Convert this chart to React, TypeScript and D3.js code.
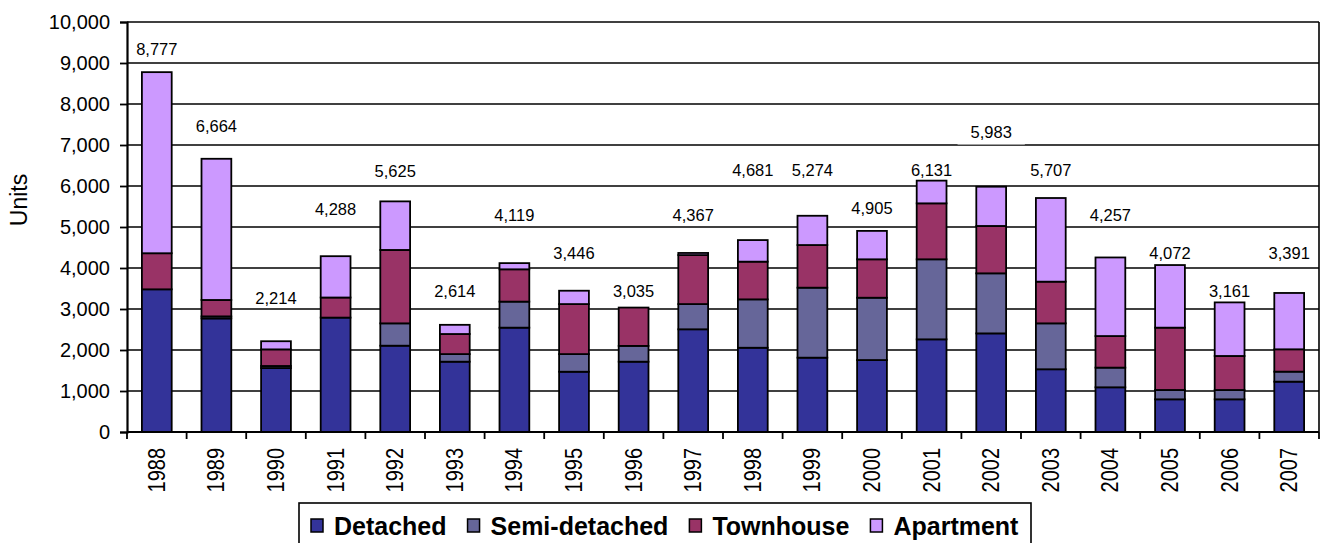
import { useEffect, useRef } from "react";
import * as d3 from "d3";

const years = ["1988", "1989", "1990", "1991", "1992", "1993", "1994", "1995", "1996", "1997",
  "1998", "1999", "2000", "2001", "2002", "2003", "2004", "2005", "2006", "2007"];

const detached = [3480, 2770, 1560, 2790, 2105, 1715, 2545, 1470, 1715, 2505, 2055, 1813, 1755, 2260, 2405, 1530, 1090, 797, 797, 1228];
const semiDetached = [0, 50, 50, 0, 545, 185, 635, 430, 385, 615, 1180, 1707, 1520, 1952, 1465, 1120, 480, 228, 227, 244];
const townhouse = [880, 400, 405, 490, 1790, 490, 788, 1220, 935, 1195, 920, 1040, 937, 1365, 1155, 1017, 770, 1520, 830, 545];
const apartment = [4417, 3444, 199, 1008, 1185, 224, 151, 326, 0, 52, 526, 714, 693, 554, 958, 2040, 1917, 1527, 1307, 1374];

// where the total labels sit (in units), they were dragged around in the original
const labelLevel = [9340, 7460, 3270, 5440, 6370, 3440, 5290, 4370, 3440, 5290, 6390, 6390, 5460, 6390, 7305, 6390, 5290, 4370, 3440, 4370];
const boxedLabels = ["2002"];

const seriesNames = ["Detached", "Semi-detached", "Townhouse", "Apartment"];
const colors = ["#333399", "#666699", "#993366", "#CC99FF"];

const yTicks = d3.range(0, 10001, 1000);

export default function App() {
  const ref = useRef<SVGSVGElement>(null);

  useEffect(() => {
    const width = 1321, height = 543;
    const left = 127, right = 1319, top = 22, bottom = 432;
    const font = "'Liberation Sans', Arial, sans-serif";

    const svg = d3.select(ref.current).attr("width", width).attr("height", height);
    svg.selectAll("*").remove();

    const x = d3.scaleBand().domain(years).range([left, right]).paddingInner(0.5).paddingOuter(0.25);
    const y = d3.scaleLinear().domain([0, 10000]).range([bottom, top]);
    const step = x.step();

    const rows = years.map((yr, i) => ({
      year: yr,
      Detached: detached[i],
      "Semi-detached": semiDetached[i],
      Townhouse: townhouse[i],
      Apartment: apartment[i],
    }));
    const stack = d3.stack<any>().keys(seriesNames)(rows);

    // gridlines
    svg.append("g").selectAll("line").data(yTicks).enter().append("line")
      .attr("x1", left).attr("x2", right)
      .attr("y1", d => y(d)).attr("y2", d => y(d))
      .attr("stroke", "#000").attr("stroke-width", 1.6);

    // right border
    svg.append("line").attr("x1", right).attr("x2", right).attr("y1", top).attr("y2", bottom)
      .attr("stroke", "#000").attr("stroke-width", 1.6);

    // bars
    svg.append("g").selectAll("g").data(stack).enter().append("g")
      .attr("fill", (d, i) => colors[i])
      .selectAll("rect").data(d => d.map((p, i) => ({ p, yr: years[i] }))).enter().append("rect")
      .attr("x", d => x(d.yr)!)
      .attr("width", x.bandwidth())
      .attr("y", d => y(d.p[1]))
      .attr("height", d => y(d.p[0]) - y(d.p[1]))
      .attr("stroke", "#000").attr("stroke-width", 1.8);

    // y axis
    const yAxis = svg.append("g").attr("transform", `translate(${left},0)`)
      .call(d3.axisLeft(y).tickValues(yTicks).tickFormat(d3.format(",")).tickSize(7).tickPadding(10));
    yAxis.select(".domain").attr("stroke-width", 2.2);
    yAxis.selectAll(".tick line").attr("stroke-width", 1.8);
    yAxis.selectAll("text").attr("font-size", 20).attr("font-family", font).attr("fill", "#000");

    // x axis line and ticks between categories
    svg.append("line").attr("x1", left).attr("x2", right).attr("y1", bottom).attr("y2", bottom)
      .attr("stroke", "#000").attr("stroke-width", 2.2);
    svg.append("g").selectAll("line").data(d3.range(years.length + 1)).enter().append("line")
      .attr("x1", i => left + i * step).attr("x2", i => left + i * step)
      .attr("y1", bottom).attr("y2", bottom + 7)
      .attr("stroke", "#000").attr("stroke-width", 1.8);

    svg.append("g").selectAll("text").data(years).enter().append("text")
      .attr("transform", d => `translate(${x(d)! + x.bandwidth() / 2},448) rotate(-90) scale(1,1.15)`)
      .attr("text-anchor", "end").attr("dy", "0.35em")
      .attr("font-size", 20).attr("font-family", font)
      .text(d => d);

    // axis title
    svg.append("text")
      .attr("transform", "translate(19,200) rotate(-90)")
      .attr("text-anchor", "middle").attr("dy", "0.35em")
      .attr("font-size", 23).attr("font-family", font)
      .text("Units");

    // total labels
    const fmt = d3.format(",");
    const lbl = svg.append("g");
    years.forEach((yr, i) => {
      const total = detached[i] + semiDetached[i] + townhouse[i] + apartment[i];
      const cx = x(yr)! + x.bandwidth() / 2;
      const cy = y(labelLevel[i]);
      const t = lbl.append("text")
        .attr("x", cx).attr("y", cy).attr("dy", "0.35em")
        .attr("text-anchor", "middle")
        .attr("font-size", 16.5).attr("font-family", font)
        .text(fmt(total));
      if (boxedLabels.includes(yr)) {
        const w = (t.node() as SVGTextElement).getComputedTextLength() + 26;
        lbl.insert("rect", "text").attr("x", cx - w / 2).attr("y", cy - 12).attr("width", w).attr("height", 24)
          .attr("fill", "#fff");
      }
    });

    // legend
    const leg = svg.append("g");
    leg.append("rect").attr("x", 299).attr("y", 503).attr("width", 732).attr("height", 60)
      .attr("fill", "#fff").attr("stroke", "#000").attr("stroke-width", 1.6);
    let lx = 311;
    seriesNames.forEach((name, i) => {
      leg.append("rect").attr("x", lx).attr("y", 519).attr("width", 12).attr("height", 13)
        .attr("fill", colors[i]).attr("stroke", "#000").attr("stroke-width", 1.5);
      const t = leg.append("text").attr("x", lx + 23).attr("y", 535)
        .attr("font-size", 25).attr("font-weight", "bold").attr("font-family", font)
        .text(name);
      lx += 23 + (t.node() as SVGTextElement).getComputedTextLength() + 21;
    });
  }, []);

  return (
    <div>
      <svg ref={ref} style={{ position: "absolute", left: 0, top: 0 }}></svg>
    </div>
  );
}
